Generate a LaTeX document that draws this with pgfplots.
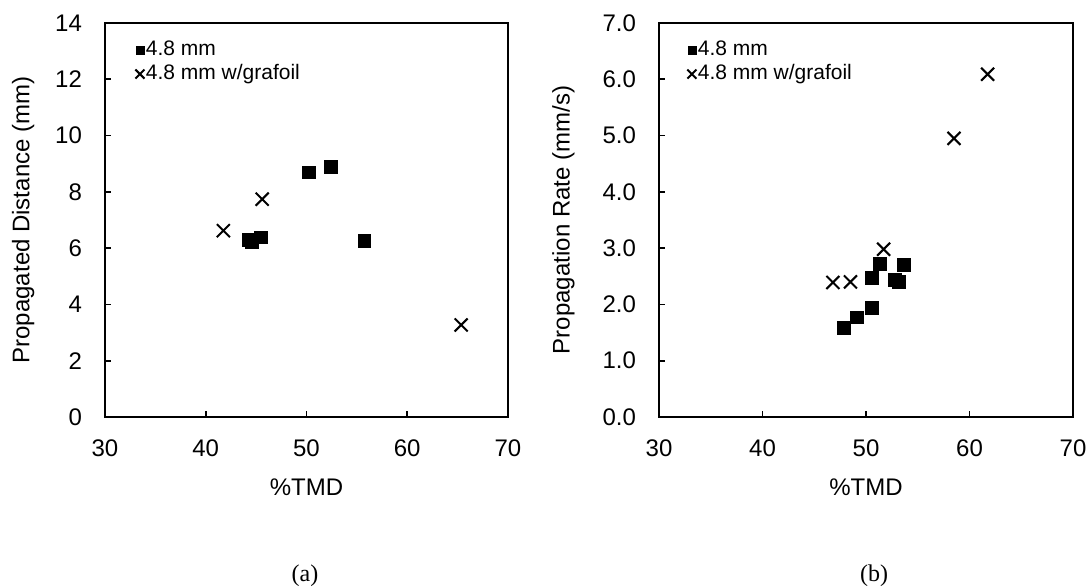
\documentclass[border=0pt]{standalone}
\usepackage{fontspec}
\setmainfont{Liberation Sans}
\newfontfamily\capfont{Liberation Serif}
\usepackage{pgfplots}
\pgfplotsset{compat=1.18}

\pgfplotsset{
  tmd/.style={
    scale only axis,
    anchor=south west,
    height=197pt,
    xmin=30, xmax=70, xtick={30,40,50,60,70},
    tick align=inside, xtick pos=bottom, ytick pos=left,
    major tick length=3pt,
    axis line style={line width=1pt},
    every tick/.append style={line width=0.8pt, black},
    tick label style={font=\fontsize{12}{14}\selectfont},
    label style={font=\fontsize{12}{14}\selectfont},
    /pgf/number format/assume math mode=true,
    xticklabel style={yshift=-8pt},
    yticklabel style={xshift=-8pt},
    xlabel={\%TMD},
    xlabel style={at={(axis description cs:0.5,0)}, anchor=center, yshift=-35pt},
    legend style={at={(rel axis cs:0,1)}, anchor=north west, yshift=-7.5pt,
      draw=none, fill=none, inner sep=0pt, row sep=0pt,
      font=\fontsize{10.5}{12}\selectfont,
      nodes={inner sep=0.7pt, text height=8pt, text depth=2.5pt}},
    legend cell align=left,
  },
  sq/.style={only marks, mark=square*, mark size=3.2pt, black},
  cr/.style={only marks, mark=x, mark size=4.6pt, black, mark options={line width=1pt}},
  sqleg/.style={legend image code/.code={\draw[black, fill=black] plot[mark=square*, mark size=2pt] coordinates {(0pt,0pt)};}},
  crleg/.style={legend image code/.code={\draw[black, line width=0.8pt] plot[mark=x, mark size=3.2pt] coordinates {(0pt,0pt)};}},
}

\pgfplotstableread{
x y
44.3 6.30
44.6 6.22
45.5 6.38
50.2 8.69
52.4 8.89
55.75 6.26
}\distsq
\pgfplotstableread{
x y
41.75 6.62
45.6 7.74
65.35 3.27
}\distcr
\pgfplotstableread{
x y
47.9 1.58
49.1 1.77
50.6 1.94
50.55 2.47
51.35 2.72
52.8 2.43
53.2 2.40
53.65 2.70
}\ratesq
\pgfplotstableread{
x y
46.8 2.39
48.5 2.40
51.7 2.98
58.5 4.95
61.75 6.09
}\ratecr

\begin{document}
\begin{tikzpicture}
\useasboundingbox (0,0) rectangle (545pt,293.5pt);

\begin{axis}[tmd, at={(52.5pt,85pt)}, width=201.5pt,
  ymin=0, ymax=14, ytick={0,2,...,14},
  ylabel={Propagated Distance (mm)},
  ylabel style={at={(axis description cs:-0.2315,0.5)}, anchor=north, inner sep=0pt},
  legend style={xshift=15pt},
]
\addplot[sq, sqleg] table {\distsq};
\addlegendentry{4.8 mm}
\addplot[cr, crleg] table {\distcr};
\addlegendentry{4.8 mm w/grafoil}
\end{axis}

\begin{axis}[tmd, at={(329.5pt,85pt)}, width=207pt,
  ymin=0, ymax=7, ytick={0,1,...,7},
  yticklabel style={/pgf/number format/.cd, fixed, fixed zerofill, precision=1},
  ylabel={Propagation Rate (mm/s)},
  ylabel style={at={(axis description cs:-0.259,0.5)}, anchor=north, inner sep=0pt},
  legend style={xshift=14pt},
]
\addplot[sq, sqleg] table {\ratesq};
\addlegendentry{4.8 mm}
\addplot[cr, crleg] table {\ratecr};
\addlegendentry{4.8 mm w/grafoil}
\end{axis}

\node[font=\capfont\fontsize{12}{14}\selectfont, anchor=base] at (152.5pt,2.7pt) {(a)};
\node[font=\capfont\fontsize{12}{14}\selectfont, anchor=base] at (437pt,2.7pt) {(b)};
\end{tikzpicture}
\end{document}
